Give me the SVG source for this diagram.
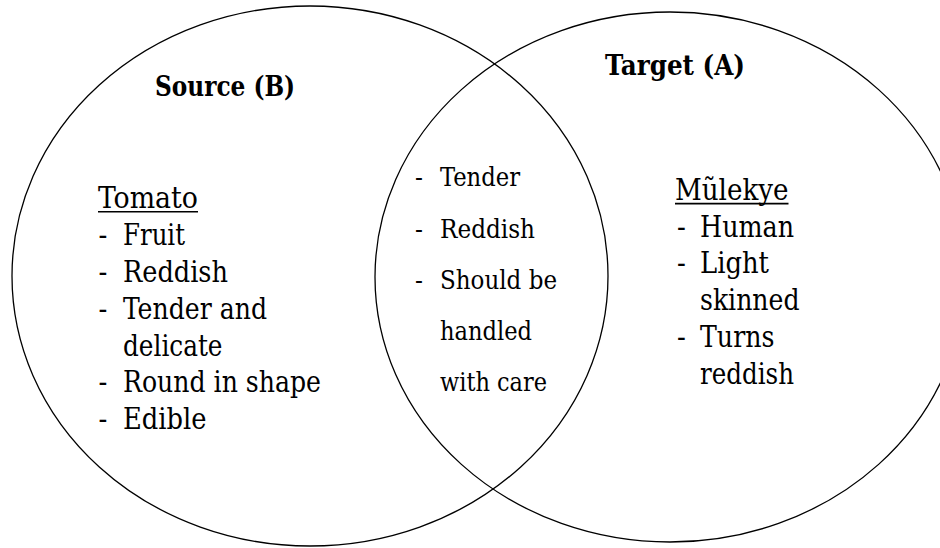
<svg xmlns="http://www.w3.org/2000/svg" width="940" height="548" viewBox="0 0 940 548">
  <style>
    .ring { fill: none; stroke: #000; stroke-width: 1.3; }
    .rule { stroke: #000; stroke-width: 1.6; }
    .serif { font-family: "DejaVu Serif Condensed", "DejaVu Serif", serif; }
    .head { font-weight: bold; font-size: 28px; }
    .big { font-size: 29px; }
    .small { font-size: 26px; }
    text { fill: #000; }
  </style>
  <rect width="940" height="548" fill="#fff"/>

  <!-- left set: the source domain -->
  <g id="set-source" class="serif">
    <ellipse class="ring" cx="310" cy="276" rx="298" ry="270"/>
    <text class="head" x="155" y="96" textLength="140" lengthAdjust="spacingAndGlyphs">Source (B)</text>
    <g class="big" lengthAdjust="spacingAndGlyphs">
      <text x="98" y="208" textLength="100" lengthAdjust="spacingAndGlyphs">Tomato</text>
      <line class="rule" x1="98" y1="211.8" x2="198" y2="211.8"/>
      <text x="98.5" y="245">-</text><text x="123" y="245" textLength="62" lengthAdjust="spacingAndGlyphs">Fruit</text>
      <text x="98.5" y="282">-</text><text x="123" y="282" textLength="105" lengthAdjust="spacingAndGlyphs">Reddish</text>
      <text x="98.5" y="319">-</text><text x="123" y="319" textLength="144" lengthAdjust="spacingAndGlyphs">Tender and</text>
      <text x="123" y="356" textLength="99.5" lengthAdjust="spacingAndGlyphs">delicate</text>
      <text x="98.5" y="392">-</text><text x="123" y="392" textLength="198" lengthAdjust="spacingAndGlyphs">Round in shape</text>
      <text x="98.5" y="429">-</text><text x="123" y="429" textLength="83.5" lengthAdjust="spacingAndGlyphs">Edible</text>
    </g>
  </g>

  <!-- right set: the target domain -->
  <g id="set-target" class="serif">
    <ellipse class="ring" cx="670" cy="277" rx="295" ry="265"/>
    <text class="head" x="605" y="75" textLength="140" lengthAdjust="spacingAndGlyphs">Target (A)</text>
    <g class="big">
      <text x="675" y="200" textLength="113.5" lengthAdjust="spacingAndGlyphs">Mũlekye</text>
      <line class="rule" x1="675" y1="203.6" x2="788.5" y2="203.6"/>
      <text x="677" y="237">-</text><text x="700" y="237" textLength="94" lengthAdjust="spacingAndGlyphs">Human</text>
      <text x="677" y="273">-</text><text x="700" y="273" textLength="69" lengthAdjust="spacingAndGlyphs">Light</text>
      <text x="700" y="310" textLength="99.5" lengthAdjust="spacingAndGlyphs">skinned</text>
      <text x="677" y="347">-</text><text x="700" y="347" textLength="74.5" lengthAdjust="spacingAndGlyphs">Turns</text>
      <text x="700" y="384" textLength="94" lengthAdjust="spacingAndGlyphs">reddish</text>
    </g>
  </g>

  <!-- shared traits in the overlap -->
  <g id="overlap" class="serif small">
    <text x="415" y="186">-</text><text x="440" y="186" textLength="80" lengthAdjust="spacingAndGlyphs">Tender</text>
    <text x="415" y="237.5">-</text><text x="440" y="237.5" textLength="95" lengthAdjust="spacingAndGlyphs">Reddish</text>
    <text x="415" y="289">-</text><text x="440" y="289" textLength="117" lengthAdjust="spacingAndGlyphs">Should be</text>
    <text x="440" y="340" textLength="92" lengthAdjust="spacingAndGlyphs">handled</text>
    <text x="440" y="391" textLength="107" lengthAdjust="spacingAndGlyphs">with care</text>
  </g>

  <g id="connectors"></g>
</svg>
